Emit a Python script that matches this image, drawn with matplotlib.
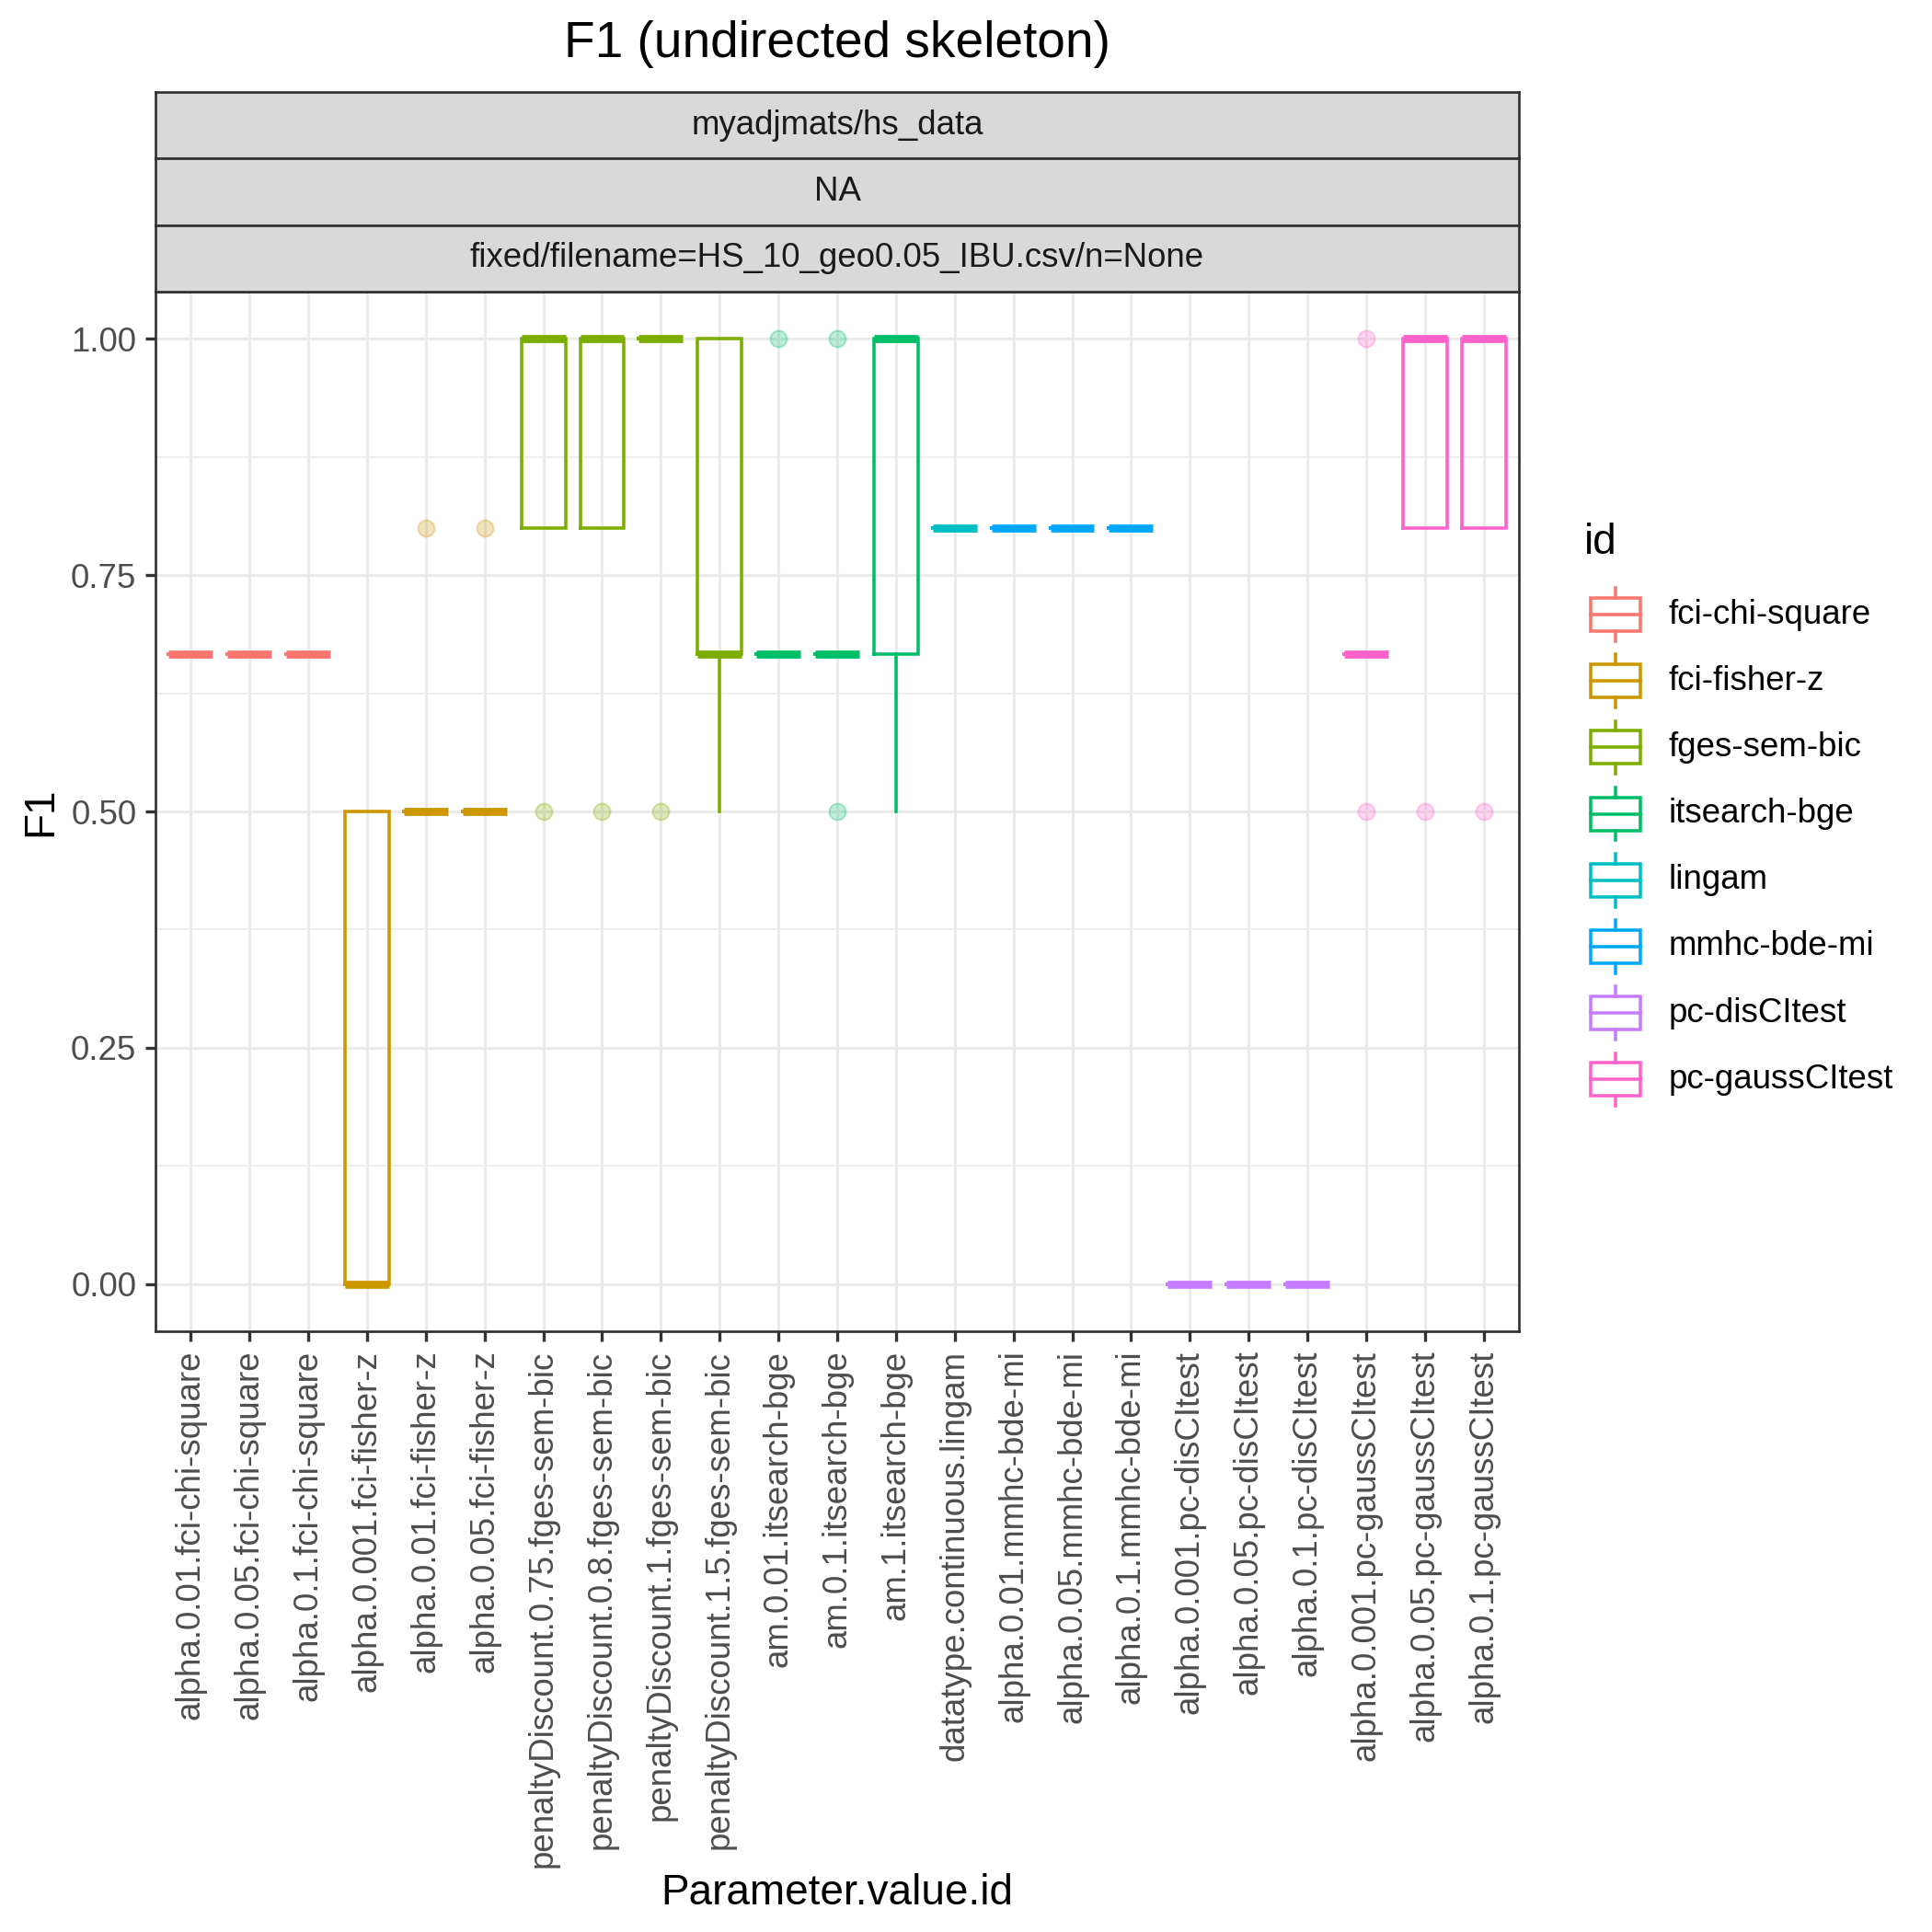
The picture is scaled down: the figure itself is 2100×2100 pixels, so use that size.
import matplotlib
matplotlib.use("Agg")
import matplotlib.pyplot as plt
from matplotlib.colors import to_rgba
from matplotlib.patches import Rectangle
from matplotlib.lines import Line2D

plt.rcParams['font.family'] = ['Liberation Sans', 'DejaVu Sans']

# ---- data ----
categories = [
    "alpha.0.01.fci-chi-square", "alpha.0.05.fci-chi-square", "alpha.0.1.fci-chi-square",
    "alpha.0.001.fci-fisher-z", "alpha.0.01.fci-fisher-z", "alpha.0.05.fci-fisher-z",
    "penaltyDiscount.0.75.fges-sem-bic", "penaltyDiscount.0.8.fges-sem-bic",
    "penaltyDiscount.1.fges-sem-bic", "penaltyDiscount.1.5.fges-sem-bic",
    "am.0.01.itsearch-bge", "am.0.1.itsearch-bge", "am.1.itsearch-bge",
    "datatype.continuous.lingam",
    "alpha.0.01.mmhc-bde-mi", "alpha.0.05.mmhc-bde-mi", "alpha.0.1.mmhc-bde-mi",
    "alpha.0.001.pc-disCItest", "alpha.0.05.pc-disCItest", "alpha.0.1.pc-disCItest",
    "alpha.0.001.pc-gaussCItest", "alpha.0.05.pc-gaussCItest", "alpha.0.1.pc-gaussCItest",
]
group = [
    "fci-chi-square", "fci-chi-square", "fci-chi-square",
    "fci-fisher-z", "fci-fisher-z", "fci-fisher-z",
    "fges-sem-bic", "fges-sem-bic", "fges-sem-bic", "fges-sem-bic",
    "itsearch-bge", "itsearch-bge", "itsearch-bge",
    "lingam",
    "mmhc-bde-mi", "mmhc-bde-mi", "mmhc-bde-mi",
    "pc-disCItest", "pc-disCItest", "pc-disCItest",
    "pc-gaussCItest", "pc-gaussCItest", "pc-gaussCItest",
]
t = 2 / 3
q1 =     [t, t, t, 0.0, 0.5, 0.5, 0.8, 0.8, 1.0, t, t, t, t, 0.8, 0.8, 0.8, 0.8, 0, 0, 0, t, 0.8, 0.8]
med =    [t, t, t, 0.0, 0.5, 0.5, 1.0, 1.0, 1.0, t, t, t, 1.0, 0.8, 0.8, 0.8, 0.8, 0, 0, 0, t, 1.0, 1.0]
q3 =     [t, t, t, 0.5, 0.5, 0.5, 1.0, 1.0, 1.0, 1.0, t, t, 1.0, 0.8, 0.8, 0.8, 0.8, 0, 0, 0, t, 1.0, 1.0]
whislo = [t, t, t, 0.0, 0.5, 0.5, 0.8, 0.8, 1.0, 0.5, t, t, 0.5, 0.8, 0.8, 0.8, 0.8, 0, 0, 0, t, 0.8, 0.8]
whishi = [t, t, t, 0.5, 0.5, 0.5, 1.0, 1.0, 1.0, 1.0, t, t, 1.0, 0.8, 0.8, 0.8, 0.8, 0, 0, 0, t, 1.0, 1.0]
fliers = [[], [], [], [], [0.8], [0.8], [0.5], [0.5], [0.5], [], [1.0], [1.0, 0.5], [], [], [], [], [],
          [], [], [], [1.0, 0.5], [0.5], [0.5]]

ids = ["fci-chi-square", "fci-fisher-z", "fges-sem-bic", "itsearch-bge",
       "lingam", "mmhc-bde-mi", "pc-disCItest", "pc-gaussCItest"]
colors = ["#F8766D", "#CD9600", "#7CAE00", "#00BE67",
          "#00BFC4", "#00A9FF", "#C77CFF", "#FF61CC"]
col_of = dict(zip(ids, colors))

yticks = [0.0, 0.25, 0.5, 0.75, 1.0]

# ---- layout (pixels of a 2100x2100 figure) ----
W = H = 2100
px_l, px_r, px_t, px_b = 169, 1651, 317, 1447
strip_h = 72.3
lw = 0.85       # box / whisker lines
border = 0.65   # panel + strip borders
dark = "#333333"

fig = plt.figure(figsize=(7, 7), dpi=300)
ax = fig.add_axes([px_l / W, 1 - px_b / H, (px_r - px_l) / W, (px_b - px_t) / H])

for i in range(len(categories)):
    c = col_of[group[i]]
    stat = dict(med=med[i], q1=q1[i], q3=q3[i], whislo=whislo[i], whishi=whishi[i], fliers=fliers[i])
    ax.bxp([stat], positions=[i + 1], widths=0.75, showcaps=False, patch_artist=False,
           boxprops=dict(color=c, linewidth=lw, solid_joinstyle='miter'),
           whiskerprops=dict(color=c, linewidth=lw),
           medianprops=dict(color=c, linewidth=2.1, solid_capstyle='butt'),
           flierprops=dict(marker='o', markersize=4.3, markerfacecolor=to_rgba(c, 0.25),
                           markeredgecolor=to_rgba(c, 0.3), markeredgewidth=0.5, linestyle='none'))

ax.set_xlim(0.4, len(categories) + 0.6)
ax.set_ylim(-0.05, 1.05)
ax.set_xticks(range(1, len(categories) + 1))
ax.set_xticklabels(categories, rotation=90, fontsize=8.8, color="#4D4D4D")
ax.set_yticks(yticks)
ax.set_yticklabels(["%.2f" % v for v in yticks], fontsize=8.8, color="#4D4D4D")
ax.set_yticks([0.125, 0.375, 0.625, 0.875], minor=True)
ax.tick_params(axis='both', which='major', length=2.75, width=0.8, color=dark, pad=2.2)
ax.tick_params(axis='y', which='minor', length=0)
ax.grid(True, which='major', color="#EBEBEB", linewidth=0.75)
ax.grid(True, which='minor', axis='y', color="#EBEBEB", linewidth=0.4)
ax.set_axisbelow(True)
for s in ax.spines.values():
    s.set_color(dark)
    s.set_linewidth(border)

ax.set_xlabel("Parameter.value.id", fontsize=11, color="black", labelpad=1.5)
ax.set_ylabel("F1", fontsize=11, color="black", labelpad=2.5)

# facet strips
strip_text = ["myadjmats/hs_data", "NA", "fixed/filename=HS_10_geo0.05_IBU.csv/n=None"]
for k, txt in enumerate(strip_text):
    top = px_t - strip_h * (3 - k)
    sax = fig.add_axes([px_l / W, 1 - (top + strip_h) / H, (px_r - px_l) / W, strip_h / H])
    sax.set_facecolor("#D9D9D9")
    sax.set_xticks([])
    sax.set_yticks([])
    for s in sax.spines.values():
        s.set_color(dark)
        s.set_linewidth(border)
    sax.text(0.5, 0.5, txt, ha='center', va='center', fontsize=8.8, color="#1A1A1A",
             transform=sax.transAxes)

fig.text((px_l + px_r) / 2 / W, 1 - 48 / H, "F1 (undirected skeleton)",
         ha='center', va='center', fontsize=13.2, color="black")

# legend drawn as boxplot keys
lx0, ly0, lw_px, lh_px = 1700, 540, 400, 700
lax = fig.add_axes([lx0 / W, 1 - (ly0 + lh_px) / H, lw_px / W, lh_px / H])
lax.set_xlim(0, lw_px)
lax.set_ylim(lh_px, 0)
lax.axis('off')
lax.text(22, 62, "id", ha='left', va='baseline', fontsize=11, color="black")
key = 72
for j, (name, c) in enumerate(zip(ids, colors)):
    cy = 128 + 72.2 * j
    cx = 55.5
    lax.add_patch(Rectangle((cx - 0.375 * key, cy - 0.25 * key), 0.75 * key, 0.5 * key,
                            fill=False, edgecolor=c, linewidth=lw, joinstyle='miter'))
    lax.add_line(Line2D([cx - 0.375 * key, cx + 0.375 * key], [cy, cy], color=c, linewidth=lw))
    lax.add_line(Line2D([cx, cx], [cy - 0.4 * key, cy - 0.25 * key], color=c, linewidth=lw))
    lax.add_line(Line2D([cx, cx], [cy + 0.25 * key, cy + 0.4 * key], color=c, linewidth=lw))
    lax.text(114, cy, name, ha='left', va='center', fontsize=8.8, color="black")

fig.savefig("out.png", dpi=300)
